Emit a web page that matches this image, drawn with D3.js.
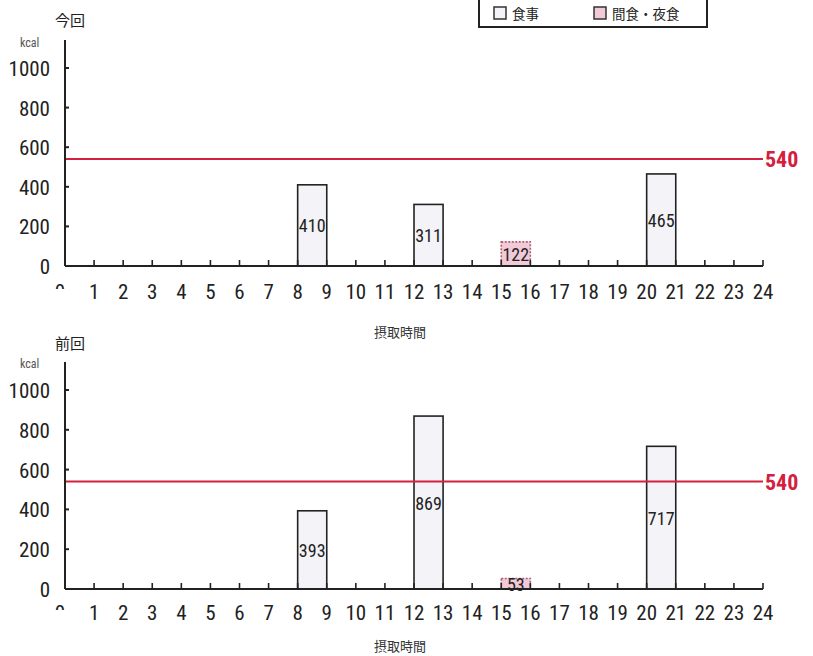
<!DOCTYPE html>
<html><head><meta charset="utf-8">
<script src="https://cdn.jsdelivr.net/npm/d3@7"></script>
<style>
body{margin:0;background:#fff;}
svg{display:block;}
.num{font-family:"Liberation Sans Narrow","Roboto Condensed","DejaVu Sans Condensed",sans-serif;}
.jp{font-family:"Noto Sans CJK JP",sans-serif;}
</style></head><body>
<svg id="c" width="813" height="656"></svg>
<script>
const hours = d3.range(0, 25);
const yTicks = [0, 200, 400, 600, 800, 1000];
const targetKcal = 540;
const panelTitles = ["今回", "前回"];
const xAxisTitle = "摂取時間";
const unitLabel = "kcal";
const legendLabels = ["食事", "間食・夜食"];
// bars: [start hour, kcal, type] type 0 = meal, 1 = snack
const currentBars = [[8, 410, 0], [12, 311, 0], [15, 122, 1], [20, 465, 0]];
const previousBars = [[8, 393, 0], [12, 869, 0], [15, 53, 1], [20, 717, 0]];
const panels = [currentBars, previousBars];

const svg = d3.select("#c");
const fills = ["#f3f3f8", "#f2c9d8"];
const x = d3.scaleLinear().domain([0, 24]).range([65, 763]);
const panelLayout = [{y0: 266, y1: 68, top: 40, title: 26, unit: 47, tickY: 299, axisT: 337},
                     {y0: 589, y1: 390, top: 362, title: 349, unit: 368, tickY: 620, axisT: 651}];

// legend
const lg = svg.append("g");
lg.append("rect").attr("x", 479).attr("y", -3).attr("width", 228).attr("height", 30)
  .attr("fill", "#fff").attr("stroke", "#222").attr("stroke-width", 2);
[[494, 0], [594, 1]].forEach(([lx, i]) => {
  lg.append("rect").attr("x", lx).attr("y", 7).attr("width", 12).attr("height", 12)
    .attr("fill", fills[i]).attr("stroke", "#333").attr("stroke-width", 1.5);
  lg.append("text").attr("class", "jp").attr("x", lx + 18).attr("y", 18.5)
    .attr("font-size", 13.5).attr("fill", "#222").text(legendLabels[i]);
});

panels.forEach((bars, p) => {
  const L = panelLayout[p];
  const y = d3.scaleLinear().domain([0, 1000]).range([L.y0, L.y1]);
  const g = svg.append("g");
  g.append("text").attr("class", "jp").attr("x", 55).attr("y", L.title)
    .attr("font-size", 15).attr("fill", "#222").text(panelTitles[p]);
  g.append("text").attr("class", "num").attr("x", 20).attr("y", L.unit)
    .attr("font-size", 12).attr("fill", "#555").text(unitLabel);

  // bars
  bars.forEach(([h, v, t]) => {
    g.append("rect").attr("x", x(h)).attr("y", y(v))
      .attr("width", x(h + 1) - x(h)).attr("height", y(0) - y(v))
      .attr("fill", fills[t]).attr("stroke", t ? "#b06070" : "#222")
      .attr("stroke-width", 1.6).attr("stroke-dasharray", t ? "2,1.5" : null);
  });

  // target line
  g.append("line").attr("x1", x(0)).attr("x2", x(24)).attr("y1", y(targetKcal)).attr("y2", y(targetKcal))
    .attr("stroke", "#d3203f").attr("stroke-width", 2);
  g.append("text").attr("class", "num").attr("x", 765).attr("y", y(targetKcal) + 8)
    .attr("font-size", 22).attr("font-weight", "bold").attr("fill", "#d3203f").text(targetKcal);

  // bar labels
  bars.forEach(([h, v, t]) => {
    g.append("text").attr("class", "num").attr("x", x(h + 0.5)).attr("y", y(v / 2) + 7)
      .attr("text-anchor", "middle").attr("font-size", 18).attr("fill", "#222").text(v);
  });

  // y axis
  g.append("line").attr("x1", x(0)).attr("x2", x(0)).attr("y1", L.top).attr("y2", y(0))
    .attr("stroke", "#222").attr("stroke-width", 2);
  yTicks.forEach(v => {
    if (v > 0) g.append("line").attr("x1", x(0)).attr("x2", x(0) + 4).attr("y1", y(v)).attr("y2", y(v))
      .attr("stroke", "#222").attr("stroke-width", 2);
    g.append("text").attr("class", "num").attr("x", 50).attr("y", y(v) + 8)
      .attr("text-anchor", "end").attr("font-size", 21).attr("fill", "#222").text(v);
  });

  // x axis
  g.append("line").attr("x1", x(0)).attr("x2", x(24)).attr("y1", y(0)).attr("y2", y(0))
    .attr("stroke", "#222").attr("stroke-width", 2);
  hours.forEach(h => {
    if (h > 0) g.append("line").attr("x1", x(h)).attr("x2", x(h)).attr("y1", y(0)).attr("y2", y(0) - 6)
      .attr("stroke", "#222").attr("stroke-width", 1.6);
  });
  const clipId = "clip0_" + p;
  svg.append("clipPath").attr("id", clipId).append("rect")
    .attr("x", x(0) - 15).attr("y", L.tickY - 17).attr("width", 30).attr("height", 7);
  hours.forEach(h => {
    g.append("text").attr("class", "num").attr("x", x(h) + (h === 0 ? -5 : 0)).attr("y", L.tickY)
      .attr("text-anchor", "middle").attr("font-size", 21).attr("fill", "#222")
      .attr("clip-path", h === 0 ? `url(#${clipId})` : null).text(h);
  });
  g.append("text").attr("class", "jp").attr("x", 400).attr("y", L.axisT)
    .attr("text-anchor", "middle").attr("font-size", 13).attr("fill", "#333").text(xAxisTitle);
});
</script></body></html>
